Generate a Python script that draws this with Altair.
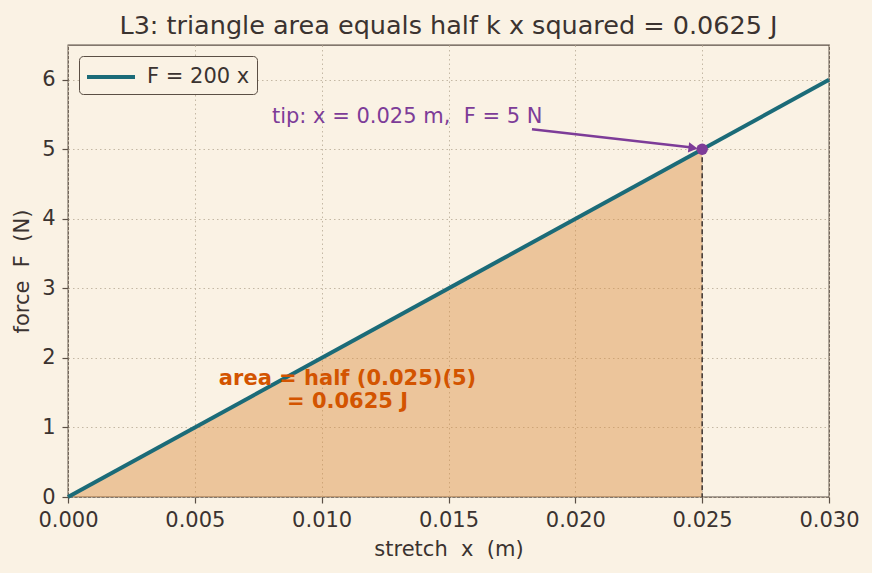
import altair as alt
import pandas as pd

NB = "\u00a0"

# ---- data ----
x_line = [0.0, 0.03]
f_line = [0.0, 6.0]
series_name = ["F = 200 x", "F = 200 x"]
x_fill = [0.0, 0.025]
f_fill = [0.0, 5.0]
tip_x = [0.025]
tip_f = [5.0]
x_ticks = [0.0, 0.005, 0.010, 0.015, 0.020, 0.025, 0.030]
y_ticks = [0, 1, 2, 3, 4, 5, 6]
arrow_x = [0.01829, 0.02452]
arrow_f = [5.287, 5.03]
head_x = [0.02464]
head_f = [5.02]
tip_label_x = [0.00804]
tip_label_f = [5.46]
tip_label = ["tip: x = 0.025 m," + NB + NB + "F = 5 N"]
area_label_x = [0.01102]
area_label_f = [1.70]
area_label = [["area = half (0.025)(5)", "= 0.0625 J"]]

BG = "#faf2e4"
TXT = "#3b3330"
EDGE = "#5b4f45"
TEAL = "#1b6b78"
PURPLE = "#7d3c98"
ORANGE = "#d35400"
FONT = "DejaVu Sans"
FS = 21

xs = alt.Scale(domain=[0, 0.03], nice=False, zero=False)
ys = alt.Scale(domain=[0, 6.5], nice=False, zero=False)

line_df = pd.DataFrame({"x": x_line, "F": f_line, "s": series_name})
fill_df = pd.DataFrame({"x": x_fill, "F": f_fill})
tip_df = pd.DataFrame({"x": tip_x, "F": tip_f})
arrow_df = pd.DataFrame({"x": arrow_x, "F": arrow_f})
head_df = pd.DataFrame({"x": head_x, "F": head_f})
tlab_df = pd.DataFrame({"x": tip_label_x, "F": tip_label_f, "t": tip_label})
alab_df = pd.DataFrame({"x": area_label_x, "F": area_label_f, "t": area_label})

X = alt.X("x:Q", scale=xs,
          axis=alt.Axis(title="stretch" + NB + NB + "x" + NB + NB + "(m)", values=x_ticks, format=".3f"))
Y = alt.Y("F:Q", scale=ys,
          axis=alt.Axis(title="force" + NB + NB + "F" + NB + NB + "(N)", values=y_ticks, format="d"))

area = alt.Chart(fill_df).mark_area(color="#dc8d43", opacity=0.45).encode(x=X, y=Y)

dashed = alt.Chart(tip_df).mark_rule(color=TXT, strokeDash=[5, 3], strokeWidth=1.5).encode(
    x="x:Q", y="F:Q", y2=alt.datum(0))

line = alt.Chart(line_df).mark_line(strokeWidth=4).encode(
    x="x:Q", y="F:Q",
    color=alt.Color("s:N", scale=alt.Scale(domain=["F = 200 x"], range=[TEAL]),
                    legend=alt.Legend(title=None, orient="top-left", offset=11,
                                      symbolType="M-2,0H2", symbolStrokeWidth=4,
                                      symbolSize=576, symbolOffset=11,
                                      labelFontSize=FS, labelFont=FONT,
                                      labelColor=TXT, fillColor=BG,
                                      strokeColor=EDGE, cornerRadius=4, padding=7,
                                      labelOffset=22)))

arrow = alt.Chart(arrow_df).mark_line(color=PURPLE, strokeWidth=2.5).encode(x="x:Q", y="F:Q")
head = alt.Chart(head_df).mark_point(shape="triangle-right", angle=7, filled=True,
                                     color=PURPLE, size=110, opacity=1).encode(x="x:Q", y="F:Q")
tip = alt.Chart(tip_df).mark_circle(color=PURPLE, size=130, opacity=1).encode(x="x:Q", y="F:Q")

tlab = alt.Chart(tlab_df).mark_text(color=PURPLE, fontSize=FS, align="left",
                                    baseline="middle", font=FONT).encode(
    x="x:Q", y="F:Q", text="t:N")
alab = alt.Chart(alab_df).mark_text(color=ORANGE, fontSize=FS, fontWeight="bold",
                                    align="center", baseline="middle", lineHeight=23,
                                    font=FONT).encode(
    x="x:Q", y="F:Q", text="t")

chart = alt.layer(area, dashed, line, arrow, head, tip, tlab, alab).properties(
    width=761, height=452,
    title=alt.TitleParams("L3: triangle area equals half k x squared = 0.0625 J",
                          fontSize=25.5, color=TXT, font=FONT,
                          fontWeight="normal", anchor="middle", offset=6),
    background=BG,
    padding={"left": 68, "top": 45, "right": 43, "bottom": 76},
    autosize=alt.AutoSizeParams(type="none"),
).configure_view(stroke=EDGE, strokeWidth=1.3, fill=BG).configure_axis(
    domain=False, tickColor=EDGE, tickSize=6, tickWidth=1.2,
    labelFontSize=FS, labelColor=TXT, labelFont=FONT,
    titleFontSize=FS, titleColor=TXT, titleFont=FONT, titleFontWeight="normal",
    grid=True, gridColor="#c4b8a4", gridDash=[1.5, 3], gridWidth=1,
).configure_axisX(titlePadding=8, labelPadding=6, labelFlush=False).configure_axisY(
    titlePadding=9, labelPadding=7, labelFlush=False)

chart.save("out.html", embed_options={"renderer": "svg", "actions": False})
